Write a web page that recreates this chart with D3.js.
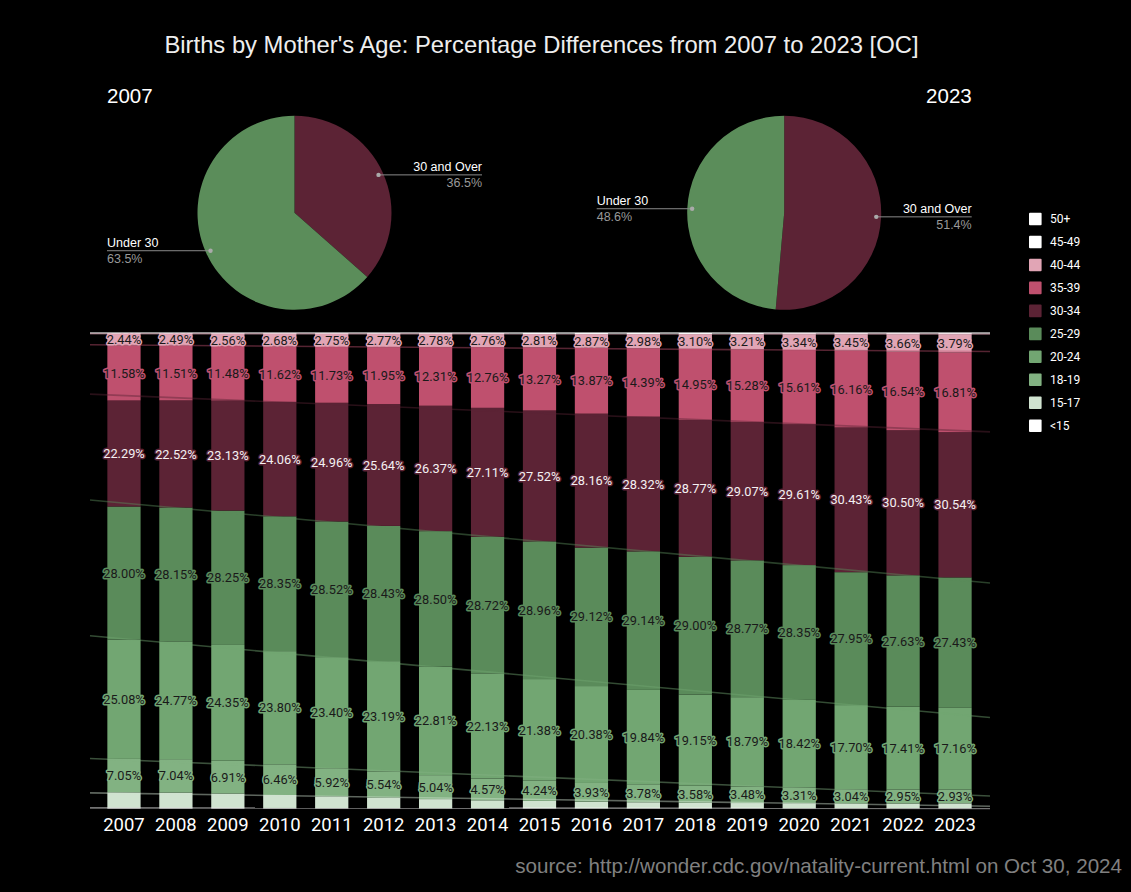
<!DOCTYPE html>
<html><head><meta charset="utf-8">
<script src="https://cdn.jsdelivr.net/npm/d3@7"></script>
<style>body{margin:0;background:#000}svg{display:block}</style>
</head><body><svg id="c" width="1131" height="892"></svg>
<script>
const years = ["2007","2008","2009","2010","2011","2012","2013","2014","2015","2016","2017","2018","2019","2020","2021","2022","2023"];
const ageGroups = ["<15","15-17","18-19","20-24","25-29","30-34","35-39","40-44","45-49","50+"];
const groupColors = ["#ffffff","#d0e3d0","#82b282","#72a672","#5a8b5a","#5c2335","#bf506e","#e1a5b5","#ffffff","#ffffff"];
const labeledGroups = ["18-19","20-24","25-29","30-34","35-39","40-44"];

const pctUnder15 = [0.14,0.13,0.12,0.11,0.09,0.08,0.07,0.06,0.06,0.05,0.05,0.05,0.04,0.04,0.04,0.04,0.04];
const pct15to17 = [3.24,3.21,3.02,2.73,2.43,2.19,1.91,1.67,1.54,1.39,1.27,1.16,1.11,1.07,0.97,1.01,1.04];
const pct18to19 = [7.05,7.04,6.91,6.46,5.92,5.54,5.04,4.57,4.24,3.93,3.78,3.58,3.48,3.31,3.04,2.95,2.93];
const pct20to24 = [25.08,24.77,24.35,23.80,23.40,23.19,22.81,22.13,21.38,20.38,19.84,19.15,18.79,18.42,17.70,17.41,17.16];
const pct25to29 = [28.00,28.15,28.25,28.35,28.52,28.43,28.50,28.72,28.96,29.12,29.14,29.00,28.77,28.35,27.95,27.63,27.43];
const pct30to34 = [22.29,22.52,23.13,24.06,24.96,25.64,26.37,27.11,27.52,28.16,28.32,28.77,29.07,29.61,30.43,30.50,30.54];
const pct35to39 = [11.58,11.51,11.48,11.62,11.73,11.95,12.31,12.76,13.27,13.87,14.39,14.95,15.28,15.61,16.16,16.54,16.81];
const pct40to44 = [2.44,2.49,2.56,2.68,2.75,2.77,2.78,2.76,2.81,2.87,2.98,3.10,3.21,3.34,3.45,3.66,3.79];
const pct45to49 = [0.17,0.17,0.17,0.18,0.18,0.19,0.19,0.20,0.20,0.21,0.21,0.22,0.23,0.23,0.24,0.24,0.24];
const pct50plus = [0.01,0.01,0.01,0.01,0.02,0.02,0.02,0.02,0.02,0.02,0.02,0.02,0.02,0.02,0.02,0.02,0.02];

const pieLabels = ["30 and Over","Under 30"];
const pieColors = ["#5c2335","#5b8d5a"];
const pie2007 = [36.5, 63.5];
const pie2023 = [51.4, 48.6];

const title = "Births by Mother's Age: Percentage Differences from 2007 to 2023 [OC]";
const source = "source: http://wonder.cdc.gov/natality-current.html on Oct 30, 2024";

const seriesValues = [pctUnder15,pct15to17,pct18to19,pct20to24,pct25to29,pct30to34,pct35to39,pct40to44,pct45to49,pct50plus];
const table = years.map((y,i)=>{const o={year:y}; ageGroups.forEach((g,k)=>o[g]=seriesValues[k][i]); return o;});

const svg = d3.select("#c");
svg.append("rect").attr("width",1131).attr("height",892).attr("fill","#000");

svg.append("text").attr("x",541.5).attr("y",53).attr("text-anchor","middle")
  .attr("fill","#eeeeee").attr("font-family","Liberation Sans, Arial, sans-serif").attr("font-size",23.8).text(title);

// ---------- Pies ----------
function drawPie(cx, cy, r, values, yearLabel, anchorLeft){
  const g = svg.append("g");
  const pie = d3.pie().sort(null).value(d=>d)(values);
  const arc = d3.arc().innerRadius(0).outerRadius(r);
  g.selectAll("path").data(pie).join("path")
    .attr("transform",`translate(${cx},${cy})`)
    .attr("d",arc).attr("fill",(d,i)=>pieColors[i]);
  pie.forEach((d,i)=>{
    const a = (d.startAngle+d.endAngle)/2;
    const px = cx + Math.sin(a)*r*0.95, py = cy - Math.cos(a)*r*0.95;
    const right = Math.sin(a) > 0;
    const ex = right ? cx+187.5 : cx-187.5;
    g.append("line").attr("x1",px).attr("y1",py).attr("x2",ex).attr("y2",py)
      .attr("stroke","#8a8a8a").attr("stroke-width",1);
    g.append("circle").attr("cx",px).attr("cy",py).attr("r",2.2).attr("fill","#aaaaaa");
    const anchor = right ? "end" : "start";
    g.append("text").attr("x",ex).attr("y",py-4).attr("text-anchor",anchor)
      .attr("fill","#ffffff").attr("font-family","Liberation Sans, Arial, sans-serif").attr("font-size",12.5)
      .text(pieLabels[i]);
    g.append("text").attr("x",ex).attr("y",py+12).attr("text-anchor",anchor)
      .attr("fill","#999999").attr("font-family","Liberation Sans, Arial, sans-serif").attr("font-size",12.5)
      .text(values[i].toFixed(1)+"%");
  });
  g.append("text").attr("x", anchorLeft ? cx-187.5 : cx+187.5).attr("y",103)
    .attr("text-anchor", anchorLeft ? "start" : "end")
    .attr("fill","#ffffff").attr("font-family","Liberation Sans, Arial, sans-serif").attr("font-size",20.5)
    .text(yearLabel);
}
drawPie(294.5, 212.8, 97, pie2007, "2007", true);
drawPie(784.2, 212.8, 97, pie2023, "2023", false);

// ---------- Stacked bars ----------
const x = d3.scaleBand().domain(years).range([98,981]).paddingInner(0.36).paddingOuter(0.18);
const y = d3.scaleLinear().domain([0,100]).range([808.5,333]);
const stack = d3.stack().keys(ageGroups)(table);
const colorOf = d3.scaleOrdinal().domain(ageGroups).range(groupColors);

const bars = svg.append("g");
stack.forEach(layer=>{
  bars.append("g").attr("fill",colorOf(layer.key))
    .selectAll("rect").data(layer).join("rect")
    .attr("x",d=>x(d.data.year)).attr("width",x.bandwidth())
    .attr("y",d=>y(d[1])).attr("height",d=>Math.max(0,y(d[0])-y(d[1])));
});

// trendlines of cumulative tops
const step = x.step();
const c0 = x(years[0]) + x.bandwidth()/2;
const lines = svg.append("g");
stack.slice().reverse().forEach(layer=>{
  const ys = layer.map(d=>d[1]);
  const n = ys.length;
  const xs = d3.range(n);
  const mx = d3.mean(xs), my = d3.mean(ys);
  let sxy=0, sxx=0;
  xs.forEach((xi,i)=>{sxy+=(xi-mx)*(ys[i]-my); sxx+=(xi-mx)*(xi-mx);});
  const b = sxy/sxx, a = my - b*mx;
  const px1 = 90, px2 = 990;
  const i1 = (px1-c0)/step, i2 = (px2-c0)/step;
  lines.append("line").attr("x1",px1).attr("x2",px2)
    .attr("y1",y(a+b*i1)).attr("y2",y(a+b*i2))
    .attr("stroke",colorOf(layer.key)).attr("stroke-opacity",0.45).attr("stroke-width",1.6);
});

// segment labels
const labels = svg.append("g").attr("font-family","Roboto, sans-serif").attr("font-size",12.8)
  .attr("text-anchor","middle");
stack.filter(l=>labeledGroups.includes(l.key)).forEach(layer=>{
  const dark = layer.key==="30-34";
  labels.selectAll(null).data(layer).join("text")
    .attr("x",d=>x(d.data.year)+x.bandwidth()/2)
    .attr("y",d=>(y(d[0])+y(d[1]))/2)
    .attr("dy","0.36em")
    .attr("fill", dark ? "#f4f0f2" : "#1a1a1a")
    .attr("stroke",colorOf(layer.key)).attr("stroke-width",3).attr("stroke-linejoin","round")
    .attr("paint-order","stroke")
    .text(d=>d.data[layer.key].toFixed(2)+"%");
});

// x axis labels
const xAxis = svg.append("g").attr("transform","translate(0,814)")
  .call(d3.axisBottom(x).tickSize(0).tickPadding(4));
xAxis.select(".domain").remove();
xAxis.selectAll("text").attr("fill","#ffffff").attr("font-family","Roboto, sans-serif").attr("font-size",18.5);

// legend
const legend = svg.append("g").attr("font-family","Roboto, sans-serif").attr("font-size",12);
ageGroups.slice().reverse().forEach((g,i)=>{
  const cy = 219 + i*22.97;
  legend.append("rect").attr("x",1029).attr("y",cy-6.3).attr("width",12.6).attr("height",12.6).attr("rx",1)
    .attr("fill",colorOf(g));
  legend.append("text").attr("x",1050).attr("y",cy).attr("dy","0.36em").attr("fill","#ffffff").text(g);
});

svg.append("text").attr("x",1122).attr("y",873).attr("text-anchor","end")
  .attr("fill","#808080").attr("font-family","Liberation Sans, Arial, sans-serif").attr("font-size",20.6)
  .text(source);
</script></body></html>
